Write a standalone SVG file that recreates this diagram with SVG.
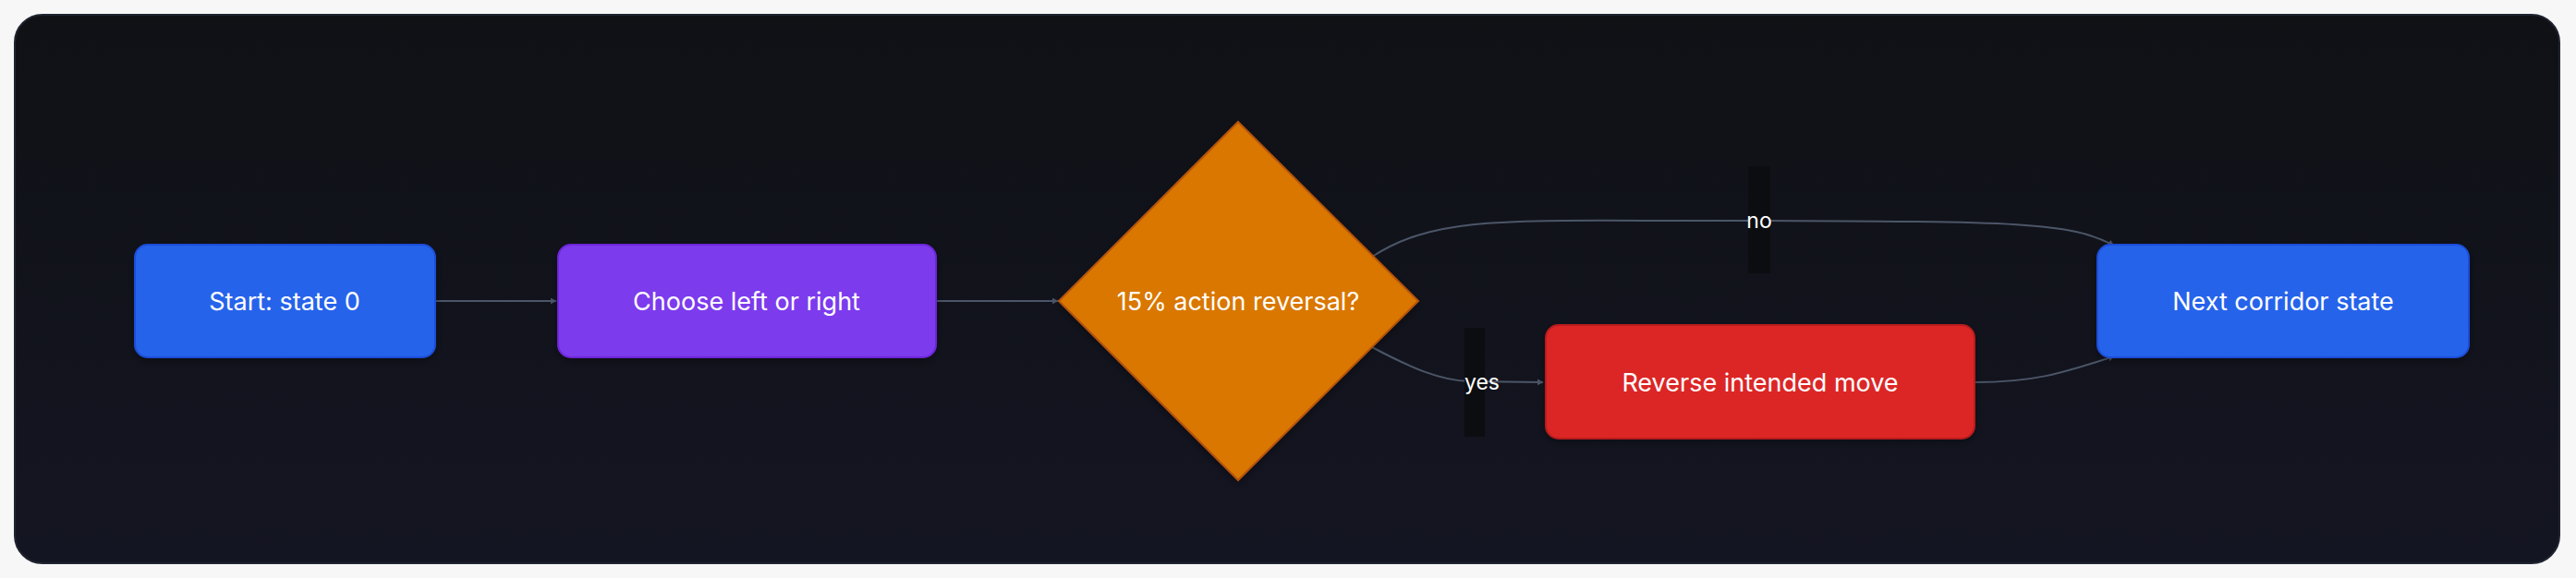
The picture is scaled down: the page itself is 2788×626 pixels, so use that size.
<svg xmlns="http://www.w3.org/2000/svg" width="2788" height="626" viewBox="0 0 2788 626">
<defs>
<linearGradient id="bg" x1="0" y1="0" x2="0" y2="1"><stop offset="0" stop-color="#0f1115"/><stop offset="1" stop-color="#141522"/></linearGradient>
<marker id="ah" viewBox="0 0 10 10" refX="9" refY="5" markerWidth="7" markerHeight="7" markerUnits="userSpaceOnUse" orient="auto"><path d="M0,0L10,5L0,10z" fill="#4b5668"/></marker>
<filter id="sh" x="-10%" y="-10%" width="120%" height="130%"><feDropShadow dx="0" dy="3" stdDeviation="4" flood-color="#000" flood-opacity="0.35"/></filter>
</defs>
<style>
.t{font-family:Inter,"Liberation Sans",sans-serif;font-size:27px;fill:#fff;text-anchor:middle;dominant-baseline:central}
.l{font-family:Inter,"Liberation Sans",sans-serif;font-size:23px;fill:#fff;text-anchor:middle;dominant-baseline:central}
.e{fill:none;stroke:#4b5668;stroke-width:2;marker-end:url(#ah)}
.lb{fill:#0c0d10}
</style>
<rect width="2788" height="626" fill="#f7f7f8"/>
<rect x="16" y="16" width="2754" height="594" rx="30" fill="url(#bg)" stroke="#1f2430" stroke-width="2"/>
<g id="connectors">
<path class="e" d="M471,326H602"/>
<path class="e" d="M1013,326H1145"/>
<path class="e" d="M1485,278C1560,230 1640,240 1900,239C2180,240 2240,240 2288,266"/>
<path class="e" d="M1485,376C1530,400 1560,412 1590,413L1670,414"/>
<path class="e" d="M2137,414C2200,414 2230,405 2288,386"/>
<rect class="lb" x="1892" y="180" width="24" height="116"/>
<text class="l" x="1904" y="239">no</text>
<rect class="lb" x="1585" y="355" width="22" height="118"/>
<text class="l" x="1604" y="414">yes</text>
</g>
<g id="start"><rect x="146" y="265" width="325" height="122" rx="14" fill="#2563eb" stroke="#1d4ed8" stroke-width="2" filter="url(#sh)"/><text class="t" x="308" y="326">Start: state 0</text></g>
<g id="choose"><rect x="604" y="265" width="409" height="122" rx="14" fill="#7c3aed" stroke="#6d28d9" stroke-width="2" filter="url(#sh)"/><text class="t" x="808" y="326">Choose left or right</text></g>
<g id="decision"><polygon points="1340,132 1535,326 1340,520 1146,326" fill="#d97706" stroke="#b45309" stroke-width="2" filter="url(#sh)"/><text class="t" x="1340" y="326">15% action reversal?</text></g>
<g id="reverse"><rect x="1673" y="352" width="464" height="123" rx="14" fill="#dc2626" stroke="#b91c1c" stroke-width="2" filter="url(#sh)"/><text class="t" x="1905" y="414">Reverse intended move</text></g>
<g id="next"><rect x="2270" y="265" width="402" height="122" rx="14" fill="#2563eb" stroke="#1d4ed8" stroke-width="2" filter="url(#sh)"/><text class="t" x="2471" y="326">Next corridor state</text></g>
</svg>
